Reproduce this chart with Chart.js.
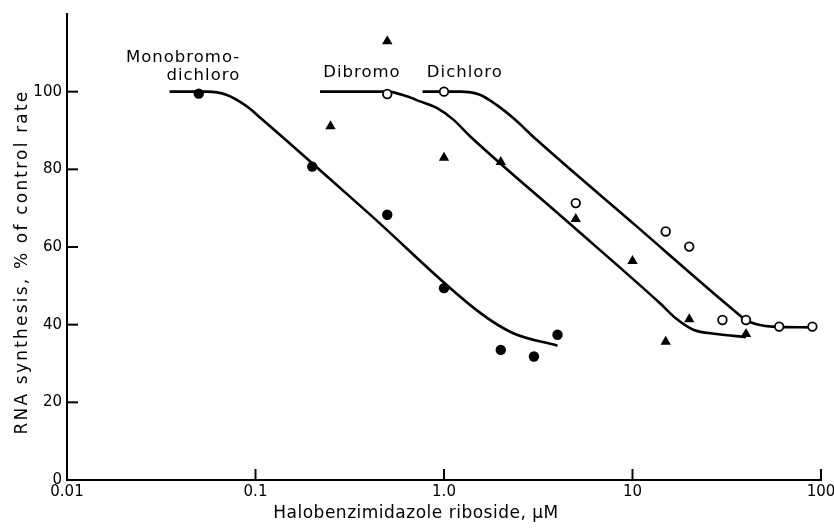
<!DOCTYPE html>
<html>
<head>
<meta charset="utf-8">
<script src="https://cdn.jsdelivr.net/npm/chart.js@4.4.1/dist/chart.umd.min.js"></script>
<style>
  html, body { margin: 0; padding: 0; background: #fff; }
  #wrap { width: 834px; height: 529px; }
</style>
</head>
<body>
<div id="wrap"><canvas id="c" width="834" height="529"></canvas></div>
<script>
// ── Axis ticks ─────────────────────────────────────────────
const xTicks      = [0.01, 0.1, 1, 10, 100];
const xTickLabels = ['0.01', '0.1', '1.0', '10', '100'];
const yTicks      = [0, 20, 40, 60, 80, 100];

// ── Measured points ────────────────────────────────────────
// Monobromo-dichloro (filled circles)
const monoX = [0.05, 0.2, 0.5, 1.0, 2.0, 3.0, 4.0];
const monoY = [99.5, 80.7, 68.3, 49.4, 33.5, 31.8, 37.4];
// Dibromo (filled triangles)
const dibrX = [0.25, 0.5, 1.0, 2.0, 5, 10, 15, 20, 40];
const dibrY = [91.1, 113, 83, 81.9, 67.2, 56.4, 35.6, 41.4, 37.6];
// Dichloro (open circles)
const dichX = [0.5, 1.0, 5, 15, 20, 30, 40, 60, 90];
const dichY = [99.4, 100, 71.3, 64, 60.1, 41.2, 41.2, 39.5, 39.5];

// ── Fitted curves ──────────────────────────────────────────
const monoCurveX = [0.035, 0.055, 0.07, 0.09, 0.106, 0.4, 1.55, 2.33, 4.0];
const monoCurveY = [100, 100, 99.2, 96.2, 93.3, 68.6, 43.1, 37.8, 34.6];
const dibrCurveX = [0.22, 0.5, 0.634, 0.746, 0.915, 1.12, 1.37, 4.4, 14.0, 17.1, 21.0, 28.0, 40];
const dibrCurveY = [100, 100, 98.8, 97.5, 95.8, 92.8, 88.6, 67.0, 45.5, 41.5, 38.7, 37.6, 36.8];
const dichCurveX = [0.77, 1.22, 1.55, 1.9, 2.33, 3.1, 10.3, 34.3, 40, 47.5, 55, 90];
const dichCurveY = [100, 100, 99.2, 96.6, 93.2, 87.6, 65.7, 43.8, 41.2, 39.9, 39.5, 39.3];

// ── Curve labels (data coordinates) ────────────────────────
const labelText  = ['Monobromo-', 'dichloro', 'Dibromo', 'Dichloro'];
const labelX     = [0.083, 0.083, 0.367, 1.29];
const labelY     = [108.8, 104.2, 104.8, 105.0];
const labelAlign = ['right', 'right', 'center', 'center'];

const pts = (xs, ys) => xs.map((x, i) => ({ x, y: ys[i] }));
const FONT = '"DejaVu Sans", sans-serif';

const curve = (xs, ys) => ({
  data: pts(xs, ys),
  showLine: true,
  borderColor: '#000',
  borderWidth: 2.6,
  pointRadius: 0,
  cubicInterpolationMode: 'monotone',
  fill: false,
  order: 2,
});

// inward tick marks, curve labels, axis titles
const decor = {
  id: 'decor',
  afterDraw(chart) {
    const { ctx, chartArea: a, scales: { x, y } } = chart;
    ctx.save();
    ctx.strokeStyle = '#000';
    ctx.lineWidth = 2;
    xTicks.slice(1).forEach(v => {
      const px = x.getPixelForValue(v);
      ctx.beginPath(); ctx.moveTo(px, a.bottom); ctx.lineTo(px, a.bottom - 11); ctx.stroke();
    });
    yTicks.slice(1).forEach(v => {
      const py = y.getPixelForValue(v);
      ctx.beginPath(); ctx.moveTo(a.left, py); ctx.lineTo(a.left + 11, py); ctx.stroke();
    });

    ctx.fillStyle = '#000';
    ctx.textBaseline = 'middle';
    ctx.font = '16.5px ' + FONT;
    ctx.letterSpacing = '1px';
    labelText.forEach((t, i) => {
      ctx.textAlign = labelAlign[i];
      ctx.fillText(t, x.getPixelForValue(labelX[i]), y.getPixelForValue(labelY[i]));
    });

    ctx.font = '17px ' + FONT;
    ctx.letterSpacing = '0.5px';
    ctx.textAlign = 'center';
    ctx.fillText('Halobenzimidazole riboside, \u03BCM', 416, 514);
    ctx.translate(23, 262);
    ctx.rotate(-Math.PI / 2);
    ctx.letterSpacing = '2.2px';
    ctx.fillText('RNA synthesis, % of control rate', 0, 0);
    ctx.restore();
  }
};

new Chart(document.getElementById('c'), {
  type: 'scatter',
  data: {
    datasets: [
      { data: pts(monoX, monoY), pointStyle: 'circle', pointRadius: 5.2,
        backgroundColor: '#000', borderColor: '#000', borderWidth: 0, order: 1 },
      { data: pts(dibrX, dibrY), pointStyle: 'triangle', pointRadius: 6,
        backgroundColor: '#000', borderColor: '#000', borderWidth: 0, order: 1 },
      { data: pts(dichX, dichY), pointStyle: 'circle', pointRadius: 4.3,
        backgroundColor: '#fff', borderColor: '#000', borderWidth: 1.8, order: 1 },
      curve(monoCurveX, monoCurveY),
      curve(dibrCurveX, dibrCurveY),
      curve(dichCurveX, dichCurveY),
    ]
  },
  options: {
    responsive: false,
    animation: false,
    devicePixelRatio: 1,
    layout: { autoPadding: false, padding: { top: 14, right: 13, left: 0, bottom: 0 } },
    plugins: { legend: { display: false }, tooltip: { enabled: false } },
    scales: {
      x: {
        type: 'logarithmic',
        min: 0.01, max: 100,
        afterBuildTicks: s => { s.ticks = xTicks.map(v => ({ value: v })); },
        afterFit: s => { s.height = 49; s.paddingLeft = 0; s.paddingRight = 0; },
        ticks: {
          color: '#000', padding: 3, maxRotation: 0, autoSkip: false,
          font: { family: FONT, size: 15 },
          callback: (v) => xTickLabels[xTicks.indexOf(v)] ?? '',
        },
        grid: { display: true, drawOnChartArea: false, drawTicks: false },
        border: { display: true, color: '#000', width: 2 },
      },
      y: {
        min: 0, max: 120,
        afterBuildTicks: s => { s.ticks = yTicks.map(v => ({ value: v })); },
        afterFit: s => { s.width = 67; s.paddingTop = 0; s.paddingBottom = 0; },
        ticks: {
          color: '#000', padding: 5,
          font: { family: FONT, size: 15 },
        },
        grid: { display: true, drawOnChartArea: false, drawTicks: false },
        border: { display: true, color: '#000', width: 2 },
      }
    }
  },
  plugins: [decor]
});
</script>
</body>
</html>
